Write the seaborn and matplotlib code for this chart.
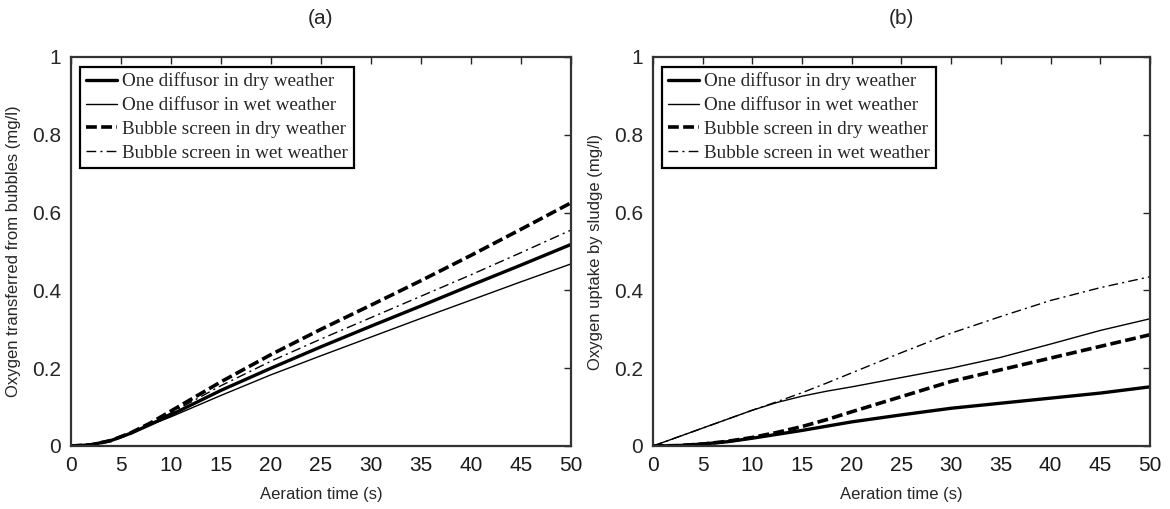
import numpy as np
import pandas as pd
import matplotlib
matplotlib.use("Agg")
import matplotlib.pyplot as plt
from matplotlib import font_manager as fm
import seaborn as sns

# ---------------- data ----------------
time_a = [0, 2, 4, 6, 8, 10, 15, 20, 25, 30, 35, 40, 45, 50]
one_dry_a = [0, 0.003, 0.014, 0.033, 0.056, 0.080, 0.143, 0.200, 0.255, 0.308, 0.360, 0.413, 0.465, 0.518]
one_wet_a = [0, 0.003, 0.014, 0.033, 0.055, 0.075, 0.130, 0.183, 0.232, 0.280, 0.328, 0.375, 0.422, 0.468]
bub_dry_a = [0, 0.003, 0.014, 0.034, 0.060, 0.090, 0.165, 0.235, 0.300, 0.362, 0.425, 0.490, 0.557, 0.625]
bub_wet_a = [0, 0.003, 0.014, 0.034, 0.058, 0.085, 0.155, 0.218, 0.275, 0.330, 0.385, 0.440, 0.497, 0.555]

time_b = [0, 2.5, 5, 7.5, 10, 12.5, 15, 17.5, 20, 25, 30, 35, 40, 45, 50]
one_dry_b = [0, 0.001, 0.005, 0.011, 0.020, 0.030, 0.040, 0.051, 0.062, 0.080, 0.097, 0.110, 0.123, 0.136, 0.152]
one_wet_b = [0, 0.023, 0.046, 0.069, 0.092, 0.112, 0.128, 0.141, 0.152, 0.176, 0.200, 0.228, 0.262, 0.297, 0.327]
bub_dry_b = [0, 0.001, 0.005, 0.012, 0.022, 0.035, 0.050, 0.068, 0.088, 0.127, 0.166, 0.196, 0.226, 0.256, 0.286]
bub_wet_b = [0, 0.023, 0.046, 0.069, 0.092, 0.114, 0.137, 0.162, 0.188, 0.240, 0.290, 0.333, 0.374, 0.407, 0.435]

series_labels = ["One diffusor in dry weather", "One diffusor in wet weather",
                 "Bubble screen in dry weather", "Bubble screen in wet weather"]
panel_titles = ["(a)", "(b)"]
y_labels = ["Oxygen transferred from bubbles (mg/l)", "Oxygen uptake by sludge (mg/l)"]
x_label = "Aeration time (s)"
x_ticks = list(range(0, 51, 5))
y_ticks = [0, 0.2, 0.4, 0.6, 0.8, 1.0]
y_ticklabels = ["0", "0.2", "0.4", "0.6", "0.8", "1"]

# ---------------- style ----------------
sns.set_style("white")
names = {f.name for f in fm.fontManager.ttflist}
sans = "Liberation Sans Narrow" if "Liberation Sans Narrow" in names else "Liberation Sans"
plt.rcParams["font.family"] = [sans, "DejaVu Sans"]

styles = [
    dict(linewidth=2.4, linestyle="-"),
    dict(linewidth=1.0, linestyle="-"),
    dict(linewidth=2.6, linestyle=(0, (3.0, 1.2))),
    dict(linewidth=1.0, linestyle=(0, (7, 3, 1.5, 3))),
]

fig = plt.figure(figsize=(11.7, 5.09), dpi=100)
ax_a = fig.add_axes([0.0607, 0.1238, 0.4273, 0.7643])
ax_b = fig.add_axes([0.5581, 0.1238, 0.4248, 0.7643])

panels = [
    (ax_a, time_a, [one_dry_a, one_wet_a, bub_dry_a, bub_wet_a]),
    (ax_b, time_b, [one_dry_b, one_wet_b, bub_dry_b, bub_wet_b]),
]

for i, (ax, t, ys) in enumerate(panels):
    for lab, y, st in zip(series_labels, ys, styles):
        df = pd.DataFrame({"t": t, "v": y})
        sns.lineplot(data=df, x="t", y="v", ax=ax, color="black", label=lab, **st)
    ax.set_xlim(0, 50)
    ax.set_ylim(0, 1)
    ax.set_xticks(x_ticks)
    ax.set_xticklabels([str(v) for v in x_ticks])
    ax.set_yticks(y_ticks)
    ax.set_yticklabels(y_ticklabels)
    ax.tick_params(direction="in", length=5, width=1.0, top=True, right=True,
                   labelsize=15, colors="#262626", pad=7)
    ax.tick_params(axis="x", labelcolor="#1a1a1a")
    for sp in ax.spines.values():
        sp.set_visible(True)
        sp.set_linewidth(1.6)
        sp.set_color("#333333")
    ax.set_xlabel(x_label, fontsize=12, labelpad=9)
    ax.set_ylabel(y_labels[i], fontsize=12, labelpad=8)
    ax.set_title(panel_titles[i], fontsize=15, pad=24)
    leg = ax.legend(loc="upper left", bbox_to_anchor=(0.018, 0.975),
                    prop={"family": "Liberation Serif", "size": 13.8},
                    frameon=True, fancybox=False, framealpha=1,
                    edgecolor="black", handlelength=1.65, handletextpad=0.25,
                    labelspacing=0.34, borderpad=0.3, borderaxespad=0.0)
    leg.get_frame().set_linewidth(1.6)

fig.savefig("out.png", dpi=100)
